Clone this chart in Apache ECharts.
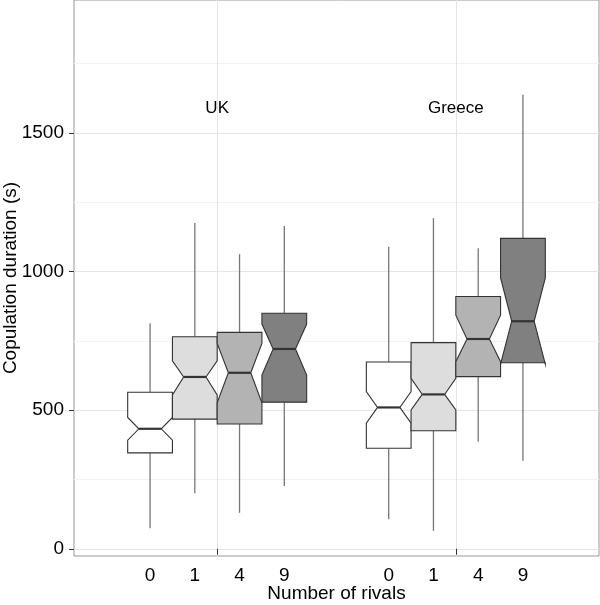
<!DOCTYPE html>
<html>
<head>
<meta charset="utf-8">
<script src="https://cdn.jsdelivr.net/npm/echarts@6/dist/echarts.min.js"></script>
<style>html,body{margin:0;padding:0;background:#fff}#c{width:600px;height:605px}</style>
</head>
<body>
<div id="c"></div>
<script>
// ---- data ----
const groups = ['UK', 'Greece'];
const rivals = ['0', '1', '4', '9'];
// order: UK 0,1,4,9 then Greece 0,1,4,9
const whiskerLow  = [74, 200, 130, 227, 107, 65, 386, 318];
const q1          = [346, 468, 450, 529, 363, 426, 621, 671];
const notchLow    = [392, 555, 527, 627, 453, 501, 675, 666];
const median      = [433, 620, 635, 721, 510, 557, 757, 821];
const notchHigh   = [474, 678, 741, 811, 567, 615, 843, 977];
const q3          = [565, 765, 781, 850, 674, 744, 910, 1120];
const whiskerHigh = [814, 1175, 1063, 1165, 1090, 1193, 1084, 1638];
const yTicks = [0, 500, 1000, 1500];
const yMinorTicks = [250, 750, 1250, 1750];

// ---- styling ----
const fills = ['#ffffff', '#dddddd', '#b3b3b3', '#808080'];
const FONT = "'Liberation Sans', Arial, Helvetica, sans-serif";
const SLOT = 0.1875;

function boxCenter(g, r) { return g + 1 + (r - 1.5) * SLOT; }

const boxData = [];
for (let g = 0; g < groups.length; g++) {
  for (let r = 0; r < rivals.length; r++) {
    const i = g * rivals.length + r;
    boxData.push([g, r, whiskerLow[i], q1[i], notchLow[i], median[i], notchHigh[i], q3[i], whiskerHigh[i]]);
  }
}
const boxCenters = [];
for (let g = 0; g < groups.length; g++) for (let r = 0; r < rivals.length; r++) boxCenters.push(boxCenter(g, r));

function renderBox(params, api) {
  const g = api.value(0), r = api.value(1);
  const wl = api.value(2), lo = api.value(3), nl = api.value(4), md = api.value(5),
        nh = api.value(6), hi = api.value(7), wh = api.value(8);
  const xc = boxCenter(g, r);
  const xmin = xc - SLOT / 2, xmax = xc + SLOT / 2;
  const ind1 = xmin + SLOT / 4, ind2 = xmax - SLOT / 4;
  const P = (x, y) => api.coord([x, y]);
  const pts = [P(xmin, hi), P(xmin, nh), P(ind1, md), P(xmin, nl), P(xmin, lo),
               P(xmax, lo), P(xmax, nl), P(ind2, md), P(xmax, nh), P(xmax, hi)];
  const cTop = P(xc, hi), cWh = P(xc, wh), cLo = P(xc, lo), cWl = P(xc, wl);
  const m1 = P(ind1, md), m2 = P(ind2, md);
  return {
    type: 'group',
    children: [
      { type: 'line', shape: { x1: cTop[0], y1: cTop[1], x2: cWh[0], y2: cWh[1] }, style: { stroke: '#777', lineWidth: 1.3 } },
      { type: 'line', shape: { x1: cLo[0], y1: cLo[1], x2: cWl[0], y2: cWl[1] }, style: { stroke: '#777', lineWidth: 1.3 } },
      { type: 'polygon', shape: { points: pts }, style: { fill: fills[r], stroke: '#333', lineWidth: 1.1 } },
      { type: 'line', shape: { x1: m1[0], y1: m1[1], x2: m2[0], y2: m2[1] }, style: { stroke: '#333', lineWidth: 2.2 } }
    ]
  };
}

function renderGroupLabel(params, api) {
  const g = api.value(0);
  const p = api.coord([g + 1, 1590]);
  return { type: 'text', x: p[0], y: p[1],
    style: { text: groups[g], fill: '#000', font: "17px " + FONT, align: 'center', verticalAlign: 'middle' } };
}

const chart = echarts.init(document.getElementById('c'), null, { renderer: 'canvas' });
chart.setOption({
  animation: false,
  backgroundColor: '#fff',
  textStyle: { fontFamily: FONT },
  grid: { left: 74, right: 1, top: 0, bottom: 49, containLabel: false, outerBoundsMode: 'none',
          show: true, borderColor: '#999', borderWidth: 1, backgroundColor: 'transparent' },
  xAxis: [
    { type: 'value', min: 0.4, max: 2.6, position: 'bottom',
      axisLine: { show: false },
      axisTick: { show: true, customValues: [1, 2], length: 6, lineStyle: { color: '#333' } },
      axisLabel: { show: false },
      splitLine: { show: true, lineStyle: { color: '#e4e4e4', width: 1 } } },
    { type: 'value', min: 0.4, max: 2.6, position: 'bottom',
      axisLine: { show: false }, axisTick: { show: false }, splitLine: { show: false },
      axisLabel: { show: true, customValues: boxCenters, margin: 10, color: '#000', fontSize: 19, fontFamily: FONT,
        formatter: function (v) { const d = v - Math.round(v); return rivals[Math.round(d / SLOT + 1.5)]; } },
      name: 'Number of rivals', nameLocation: 'middle', nameGap: 28, nameMoveOverlap: false,
      nameTextStyle: { color: '#000', fontSize: 19, fontFamily: FONT } }
  ],
  yAxis: [
    { type: 'value', min: -26, max: 1980,
      axisLine: { show: false },
      axisTick: { show: true, customValues: yTicks, length: 5, lineStyle: { color: '#333' } },
      axisLabel: { show: true, customValues: yTicks, margin: 10, color: '#000', fontSize: 19, fontFamily: FONT,
        formatter: function (v) { return String(v); } },
      splitLine: { show: true, lineStyle: { color: '#e6e6e6', width: 1 } },
      name: 'Copulation duration (s)', nameLocation: 'middle', nameGap: 54, nameMoveOverlap: false,
      nameTextStyle: { color: '#000', fontSize: 19, fontFamily: FONT } },
    { type: 'value', min: -26, max: 1980, position: 'left',
      axisLine: { show: false },
      axisTick: { show: false, customValues: yMinorTicks },
      axisLabel: { show: false },
      splitLine: { show: true, lineStyle: { color: '#f2f2f2', width: 1 } } }
  ],
  series: [
    { type: 'custom', xAxisIndex: 0, yAxisIndex: 0, renderItem: renderBox, data: boxData, z: 5 },
    { type: 'custom', xAxisIndex: 0, yAxisIndex: 0, renderItem: renderGroupLabel, data: groups.map((g, i) => [i]), z: 6 }
  ]
});
</script>
</body>
</html>
